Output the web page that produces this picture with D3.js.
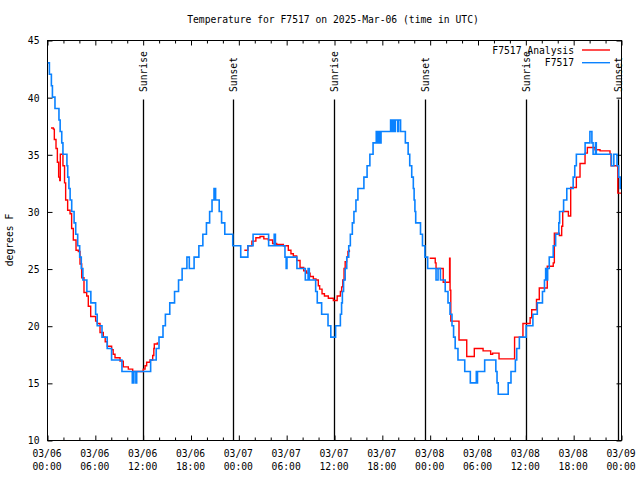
<!DOCTYPE html>
<html><head><meta charset="utf-8">
<script src="https://cdn.jsdelivr.net/npm/d3@7"></script>
<style>body{margin:0;background:#fff}svg{display:block}</style>
</head><body>
<svg id="c" width="640" height="480"></svg>
<script>
// ---- data (hours after 2025-03-06 00:00 UTC) ----
const blueHours = [0.1,0.3,0.55,0.68,1.0,1.5,1.65,1.85,2.0,2.5,2.6,2.75,2.9,3.1,3.4,3.6,3.85,4.1,4.3,4.5,5.0,5.5,6.1,6.3,6.9,7.55,8.1,9.4,10.7,10.9,11.15,11.25,13.0,13.7,14.05,14.55,14.85,15.4,16.0,16.5,16.95,17.55,17.85,18.45,19.05,19.55,20.0,20.4,20.7,20.95,21.15,21.6,21.9,22.3,23.3,24.3,25.2,25.85,27.8,28.5,28.65,29.85,30.0,30.1,31.35,32.4,32.75,32.9,33.7,33.9,34.45,35.25,35.6,36.2,36.8,36.95,37.05,37.2,37.4,37.6,37.85,38.05,38.3,38.5,38.75,39.0,39.75,40.15,40.5,40.9,41.3,41.5,41.6,41.8,41.9,43.1,43.3,43.4,43.6,43.7,44.0,44.1,44.35,44.95,45.3,45.5,45.75,45.95,46.05,46.15,46.25,46.85,47.1,47.4,47.75,48.8,49.05,49.35,49.95,50.3,50.55,50.8,51.0,51.2,51.55,52.4,53.1,53.85,53.95,54.0,54.9,56.3,56.45,56.6,57.85,58.2,58.75,58.92,59.25,60.1,60.95,61.5,62.15,62.4,62.55,62.6,62.8,63.0,63.5,63.8,64.2,64.3,64.8,65.2,66.0,66.2,66.4,67.5,68.1,68.35,68.5,68.8,68.9,70.8,71.1,71.5,71.7,71.9,72.0];
const blueTemps = [43,42,41,40,39,38,37,36,35,34,33,32,31,30,29,28,27,26,25,24,23,22,21,20,19,18,17,16,15,16,15,16,17,18,19,20,21,22,23,24,25,26,25,26,27,28,29,30,31,32,31,30,29,28,27,26,27,28,27,28,27,26,25,26,25,24,25,24,23,22,21,20,19,20,21,22,23,24,25,26,27,28,29,30,31,32,33,34,35,36,37,36,37,36,37,38,37,38,37,38,37,38,37,36,35,34,33,32,31,30,29,28,27,26,25,24,25,24,23,22,21,20,19,18,17,16,15,16,15,16,17,16,15,14,15,16,17,18,19,20,21,22,23,24,25,24,25,26,27,28,29,30,31,32,33,34,35,36,37,36,35,36,35,34,35,34,33,32,32];

const redHours = [0.5,0.8,0.92,1.13,1.3,1.46,1.6,1.67,2.0,2.2,2.34,2.59,2.89,3.09,3.3,3.64,3.93,4.14,4.35,4.64,4.98,5.18,5.48,6.1,6.31,6.65,7.06,7.3,7.57,8.11,8.3,8.53,9.16,9.57,10.2,10.75,11.45,12.08,12.3,12.5,12.92,13.26,13.4,13.46,13.84,13.9,14.0,
  24.75,25.2,25.7,26.2,26.72,27.2,27.77,28.3,28.81,29.65,30.27,30.6,30.9,31.32,31.74,32.2,32.57,33.0,33.41,33.74,34.03,34.2,34.5,34.8,35.29,35.92,36.4,36.8,36.96,37.1,37.26,37.4,37.59,37.75,37.93,38.0,38.1,
  48.0,48.7,48.8,49.7,50.5,50.56,50.65,51.68,52.65,53.6,54.7,55.65,55.9,56.7,58.65,59.7,60.6,60.8,61.4,61.75,62.75,63.5,63.64,64.27,64.56,64.69,65.4,65.69,66.4,66.86,67.49,67.78,68.61,68.74,69.37,70.62,70.75,71.6,72.0];
const redTemps = [37.3,37.2,36.3,35.5,34.3,33.0,32.7,35.0,34.0,32.5,31.0,30.1,29.8,28.5,27.5,26.6,26.5,25.4,24.2,22.9,22.6,21.7,20.8,20.4,20.2,19.4,19.0,18.6,18.2,17.9,17.5,17.2,16.9,16.4,16.2,16.0,16.0,16.2,16.5,16.8,17.0,17.4,18.0,18.4,18.5,18.5,null,
  26.6,27.0,27.4,27.7,27.8,27.6,27.5,27.2,27.1,27.0,26.6,26.3,26.1,25.7,25.1,24.8,24.6,24.3,24.1,24.0,23.5,23.2,22.8,22.6,22.4,22.2,22.6,23.0,23.4,24.0,25.0,25.6,26.0,26.5,26.6,26.6,null,
  25.9,25.5,25.0,23.8,25.9,23.1,20.4,18.75,17.3,18.0,17.8,17.5,17.6,17.1,19.0,20.2,20.7,21.4,22.3,23.3,25.2,25.5,28.1,27.9,28.7,30.0,29.6,32.1,33.0,34.2,35.1,35.6,35.6,35.4,35.3,35.0,34.0,31.6,31.6];

const sunHours = [12.08,23.37,36.05,47.45,60.03,71.62];
const sunLabels = ["Sunrise","Sunset","Sunrise","Sunset","Sunrise","Sunset"];
const yTicks = [10,15,20,25,30,35,40,45];
const majorHours = [0,6,12,18,24,30,36,42,48,54,60,66,72];
const titleText = "Temperature for F7517 on 2025-Mar-06 (time in UTC)";
const yLabel = "degrees F";
const seriesNames = ["F7517 Analysis","F7517"];

// ---- chart ----
const t0 = Date.UTC(2025,2,6);
const toDate = h => new Date(t0 + h*3600e3);
const L=47, R=621, T=40, B=440;
const FONT = "'DejaVu Sans Mono', 'Liberation Mono', monospace";
const svg = d3.select("#c");
const x = d3.scaleUtc().domain([toDate(0), toDate(72)]).range([L,R]);
const y = d3.scaleLinear().domain([10,45]).range([B,T]);

const g = svg.append("g").attr("transform","translate(0.5,0.5)");

const minorHours = d3.range(0,73,2).filter(h => h%6!==0);
function axisStyle(sel){ sel.select(".domain").remove(); sel.selectAll("line").attr("stroke","#000"); }

g.append("g").attr("transform",`translate(0,${B})`)
  .call(d3.axisBottom(x).tickValues(majorHours.map(toDate)).tickSize(-5).tickSizeOuter(0).tickFormat(()=>""))
  .call(axisStyle);
g.append("g").attr("transform",`translate(0,${B})`)
  .call(d3.axisBottom(x).tickValues(minorHours.map(toDate)).tickSize(-3).tickSizeOuter(0).tickFormat(()=>""))
  .call(axisStyle);
g.append("g").attr("transform",`translate(0,${T})`)
  .call(d3.axisTop(x).tickValues(majorHours.map(toDate)).tickSize(-5).tickSizeOuter(0).tickFormat(()=>""))
  .call(axisStyle);
g.append("g").attr("transform",`translate(0,${T})`)
  .call(d3.axisTop(x).tickValues(minorHours.map(toDate)).tickSize(-3).tickSizeOuter(0).tickFormat(()=>""))
  .call(axisStyle);
g.append("g").attr("transform",`translate(${L},0)`)
  .call(d3.axisLeft(y).tickValues(yTicks).tickSize(-5).tickSizeOuter(0).tickPadding(8).tickFormat(d3.format("d")))
  .call(axisStyle)
  .call(s=>s.selectAll("text").attr("font-family",FONT).attr("font-size","9.7px").attr("fill","#000").attr("dy","0.35em"));
g.append("g").attr("transform",`translate(${R},0)`)
  .call(d3.axisRight(y).tickValues(yTicks).tickSize(-5).tickSizeOuter(0).tickFormat(()=>""))
  .call(axisStyle);

// x labels two lines
const fmtD = d3.utcFormat("%m/%d"), fmtT = d3.utcFormat("%H:%M");
const xl = svg.append("g").attr("font-family",FONT).attr("font-size","9.7px").attr("text-anchor","middle");
majorHours.filter(h=>h%6===0).forEach(h=>{
  const d = toDate(h);
  xl.append("text").attr("x",x(d)).attr("y",457).text(fmtD(d));
  xl.append("text").attr("x",x(d)).attr("y",470).text(fmtT(d));
});

// sunrise/sunset lines
sunHours.forEach((h,i)=>{
  const xx = Math.round(x(toDate(h)));
  g.append("line").attr("x1",xx).attr("x2",xx).attr("y1",99).attr("y2",B).attr("stroke","#000").attr("stroke-width",1.3);
  svg.append("text").attr("transform",`translate(${xx+4},92) rotate(-90)`)
    .attr("font-family",FONT).attr("font-size","9.7px").attr("text-anchor","start").text(sunLabels[i]);
});

// series
const redData = redHours.map((h,i)=>({d:toDate(h),v:redTemps[i]}));
const blueData = blueHours.map((h,i)=>({d:toDate(h),v:blueTemps[i]}));
const line = d3.line().defined(p=>p.v!=null).x(p=>x(p.d)).y(p=>y(p.v)).curve(d3.curveStepAfter);
const plot = svg.append("g");
plot.append("path").datum(redData).attr("d",line).attr("fill","none").attr("stroke","#ff0000").attr("stroke-width",1.4);
plot.append("path").datum(blueData).attr("d",line).attr("fill","none").attr("stroke","#0a82ff").attr("stroke-width",1.6);

// border
g.append("rect").attr("x",L).attr("y",T).attr("width",R-L).attr("height",B-T).attr("fill","none").attr("stroke","#000");

// title and y label
svg.append("text").attr("x",333).attr("y",23).attr("text-anchor","middle")
  .attr("font-family",FONT).attr("font-size","9.7px").text(titleText);
svg.append("text").attr("transform","translate(13,240) rotate(-90)").attr("text-anchor","middle")
  .attr("font-family",FONT).attr("font-size","9.7px").text(yLabel);

// legend
const leg = svg.append("g").attr("font-family",FONT).attr("font-size","9.7px").attr("text-anchor","end");
const legColors = ["#ff0000","#0a82ff"];
seriesNames.forEach((n,i)=>{
  const yy = 50 + i*12.7;
  leg.append("text").attr("x",574).attr("y",yy+3.5).text(n);
  leg.append("line").attr("x1",582).attr("x2",610).attr("y1",yy).attr("y2",yy).attr("stroke",legColors[i]).attr("stroke-width",1.4);
});
</script>
</body></html>
